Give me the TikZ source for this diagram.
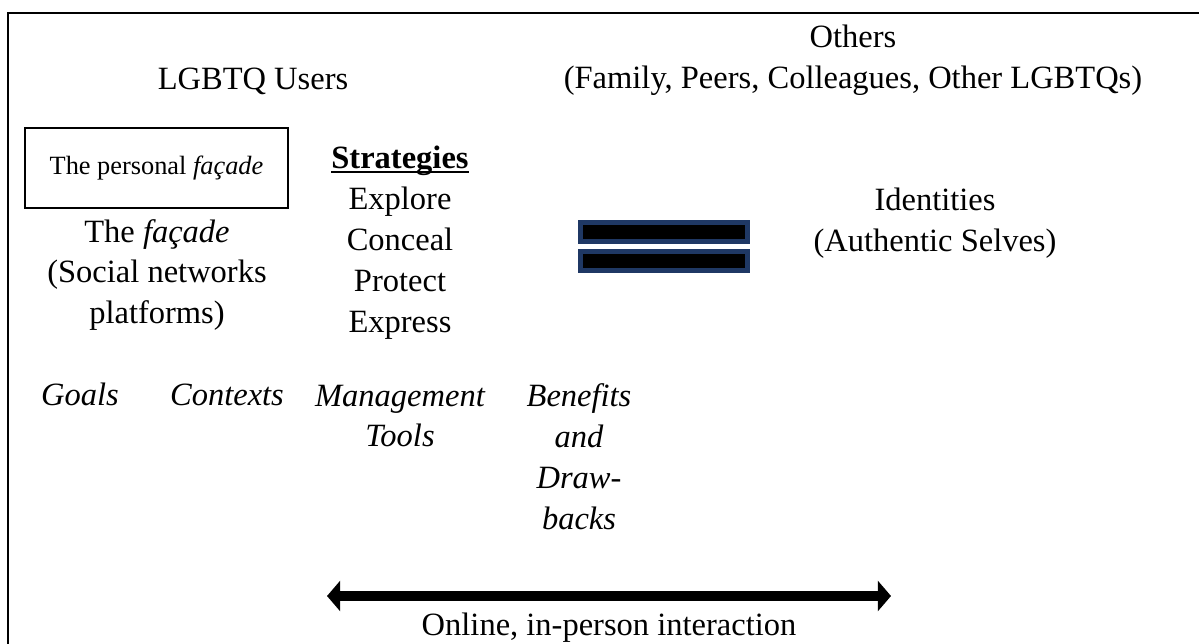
\documentclass[tikz,border=0pt]{standalone}
\usepackage{fontspec}
\setmainfont{Liberation Serif}
\usetikzlibrary{arrows.meta}
\definecolor{barblue}{RGB}{31,56,100}
\newcommand{\ulword}[1]{\setbox0\hbox{#1}\rlap{\rule[-2.2pt]{\wd0}{1.1pt}}\box0}

\tikzset{
	lbl/.style={inner sep=0pt, align=center, font=\fontsize{18.5}{23.3}\selectfont},
	ital/.style={lbl, font=\fontsize{18.5}{23.3}\selectfont\itshape},
	eqbar/.style={draw=barblue, line width=3pt, fill=black},
}

\begin{document}
\begin{tikzpicture}[x=0.02cm,y=-0.02cm]
	\useasboundingbox (0,0) rectangle (1199,644);
	\draw[line width=1pt] (8,650) -- (8,13) -- (1205,13);
	% headings
	\node[lbl] (users) at (253,81) {LGBTQ Users};
	\node[lbl] (others) at (853,60) {Others\\(Family, Peers, Colleagues, Other LGBTQs)};
	% facade
	\node[draw, line width=0.9pt, minimum width=263*0.02cm, minimum height=80*0.02cm, inner sep=0pt,
		font=\fontsize{15}{18}\selectfont] (personal) at (156.5,168) {The personal \textit{façade}};
	\node[lbl] (facade) at (157,275) {The \textit{façade}\\(Social networks\\platforms)};
	% strategies
	\node[lbl] (strat) at (400,243) {\ulword{\textbf{Strategies}}\\Explore\\Conceal\\Protect\\Express};
	% equals sign
	\draw[eqbar] (580.5,222.5) rectangle (747.5,241.5);
	\draw[eqbar] (580.5,251.5) rectangle (747.5,270.5);
	\node[lbl] (ident) at (935,223) {Identities\\(Authentic Selves)};
	% bottom row
	\node[ital] (goals) at (80,394) {Goals};
	\node[ital] (ctx) at (227,395) {Contexts};
	\node[ital] (tools) at (400,416) {Management\\Tools};
	\node[ital] (benef) at (579,457) {Benefits\\and\\Draw-\\backs};
	% interaction axis
	\coordinate (online) at (327,596);
	\coordinate (inperson) at (891,596);
	\draw[line width=5.7pt, {Triangle[length=7.5pt,width=17pt]}-{Triangle[length=7.5pt,width=17pt]}] (online) -- (inperson);
	\node[lbl, anchor=south] (inter) at (609,643) {Online, in-person interaction};
\end{tikzpicture}
\end{document}
